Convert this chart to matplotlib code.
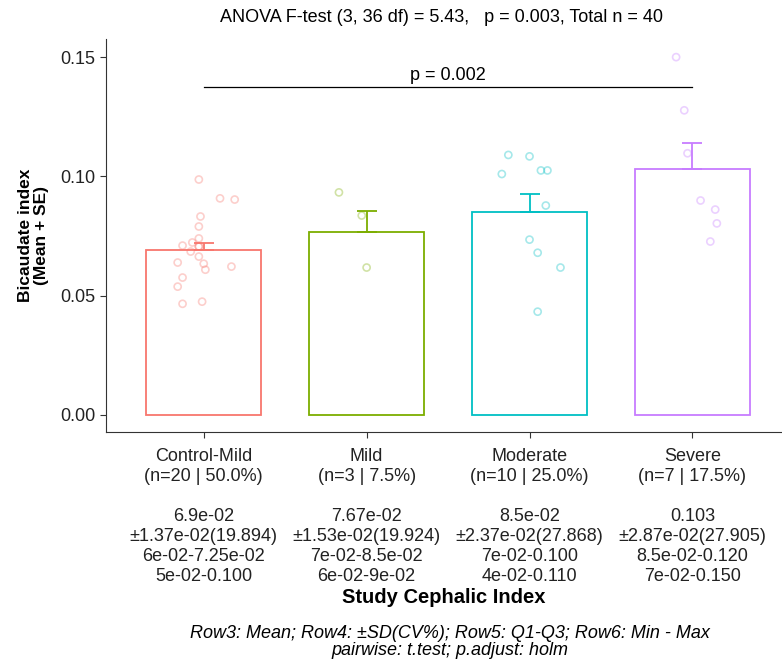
import matplotlib
matplotlib.use("Agg")
import matplotlib.pyplot as plt
import numpy as np

plt.rcParams['font.family'] = ['Liberation Sans', 'DejaVu Sans']

groups = ["Control-Mild", "Mild", "Moderate", "Severe"]
n_labels = ["(n=20 | 50.0%)", "(n=3 | 7.5%)", "(n=10 | 25.0%)", "(n=7 | 17.5%)"]
means = [0.069, 0.0767, 0.085, 0.103]
sds = [0.0137, 0.0153, 0.0237, 0.0287]
counts = [20, 3, 10, 7]
row_mean = ["6.9e-02", "7.67e-02", "8.5e-02", "0.103"]
row_sd = ["±1.37e-02(19.894)", "±1.53e-02(19.924)", "±2.37e-02(27.868)", "±2.87e-02(27.905)"]
row_q = ["6e-02-7.25e-02", "7e-02-8.5e-02", "7e-02-0.100", "8.5e-02-0.120"]
row_mm = ["5e-02-0.100", "6e-02-9e-02", "4e-02-0.110", "7e-02-0.150"]
colors = ["#F8766D", "#7CAE00", "#00BFC4", "#C77CFF"]

# points (y value, horizontal jitter)
pts_y = [
    [0.0987, 0.0908, 0.0903, 0.0832, 0.079, 0.074, 0.0723, 0.071, 0.0706, 0.0685,
     0.0664, 0.0639, 0.0634, 0.0609, 0.0622, 0.0576, 0.0538, 0.0466, 0.0475, 0.0706],
    [0.0933, 0.0836, 0.0618],
    [0.109, 0.1084, 0.101, 0.1025, 0.1025, 0.0878, 0.0735, 0.068, 0.0618, 0.0433],
    [0.150, 0.1277, 0.1097, 0.0899, 0.0861, 0.0803, 0.0727],
]
pts_jit = [
    [-0.03, 0.10, 0.19, -0.02, -0.03, -0.03, -0.07, -0.13, -0.03, -0.08,
     -0.03, -0.16, 0.0, 0.01, 0.17, -0.13, -0.16, -0.13, -0.01, -0.03],
    [-0.17, -0.03, 0.0],
    [-0.13, 0.0, -0.17, 0.07, 0.11, 0.10, 0.0, 0.05, 0.19, 0.05],
    [-0.10, -0.05, -0.03, 0.05, 0.14, 0.15, 0.11],
]

bracket_y = 0.1374
bracket_p = "p = 0.002"

fig = plt.figure(figsize=(7.82, 6.66), dpi=100)
ax = fig.add_axes([106 / 782, 1 - 432 / 666, 1 - 106 / 782, (432 - 39) / 666])

x = np.arange(1, len(groups) + 1)
se = [s / np.sqrt(n) for s, n in zip(sds, counts)]

for i in range(len(groups)):
    ax.bar(x[i], means[i], width=0.705, facecolor="white", edgecolor=colors[i], linewidth=1.3, zorder=2)
    ax.errorbar(x[i], means[i], yerr=[[0], [se[i]]], color=colors[i], capsize=7, elinewidth=1.3,
                capthick=1.3, zorder=3)
    ax.scatter(x[i] + np.array(pts_jit[i]), pts_y[i], s=26, facecolors="none",
               edgecolors=colors[i], alpha=0.35, linewidths=1.2, zorder=4)

ax.plot([1, 4], [bracket_y, bracket_y], color="black", lw=0.9, zorder=5)
ax.text(2.5, bracket_y + 0.0015, bracket_p, ha="center", va="bottom", fontsize=13)

ax.set_xlim(0.4, 4.55)
ax.set_ylim(-0.00714, 0.1576)
ax.set_yticks([0, 0.05, 0.10, 0.15])
ax.set_yticklabels(["0.00", "0.05", "0.10", "0.15"], fontsize=13)
labels = [f"{g}\n{n}\n\n{a}\n{b}\n{c}\n{d}" for g, n, a, b, c, d in
          zip(groups, n_labels, row_mean, row_sd, row_q, row_mm)]
ax.set_xticks(x)
ax.set_xticklabels(labels, fontsize=13, linespacing=1.23)
ax.tick_params(length=4, color="#333333", labelcolor="#222222")
ax.tick_params(axis="x", pad=7.5)
for s in ["top", "right"]:
    ax.spines[s].set_visible(False)
for s in ["left", "bottom"]:
    ax.spines[s].set_color("#333333")

ax.set_xlabel("Study Cephalic Index", fontsize=14.5, fontweight="bold", labelpad=2)
ax.set_ylabel("Bicaudate index\n(Mean + SE)", fontsize=12.5, fontweight="bold", labelpad=8,
              linespacing=1.1)

fig.text(441 / 782, 1 - 18 / 666, "ANOVA F-test (3, 36 df) = 5.43,   p = 0.003, Total n = 40",
         ha="center", va="center", fontsize=13)
fig.text(450 / 782, 1 - 642 / 666, "Row3: Mean; Row4: ±SD(CV%); Row5: Q1-Q3; Row6: Min - Max\npairwise: t.test; p.adjust: holm",
         ha="center", va="center", fontsize=13, style="italic", linespacing=1.0)

fig.savefig("out.png", dpi=100)
